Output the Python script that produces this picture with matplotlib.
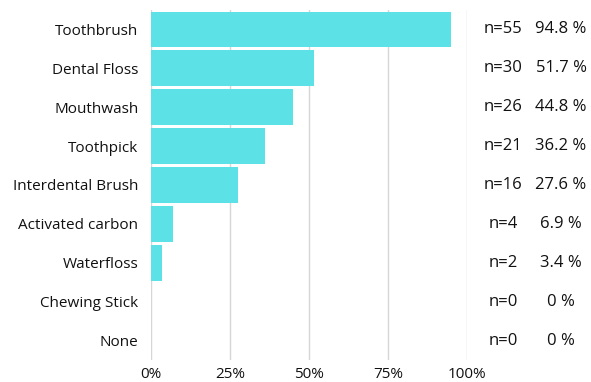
import matplotlib
matplotlib.use("Agg")
import matplotlib.pyplot as plt

categories = ["Toothbrush", "Dental Floss", "Mouthwash", "Toothpick", "Interdental Brush",
              "Activated carbon", "Waterfloss", "Chewing Stick", "None"]
percents = [94.8, 51.7, 44.8, 36.2, 27.6, 6.9, 3.4, 0, 0]
counts = [55, 30, 26, 21, 16, 4, 2, 0, 0]
pct_labels = ["94.8 %", "51.7 %", "44.8 %", "36.2 %", "27.6 %", "6.9 %", "3.4 %", "0 %", "0 %"]
xticks = [0, 25, 50, 75, 100]
xtick_labels = ["0%", "25%", "50%", "75%", "100%"]

plt.rcParams['font.family'] = ['Open Sans', 'DejaVu Sans']

fig = plt.figure(figsize=(5.91, 3.82), dpi=100)
ax = fig.add_axes([151/591, 1 - 360/382, 316/591, 350/382])

y = list(range(len(categories)))
ax.barh(y, percents, height=0.92, color="#5ce1e6", zorder=2)
ax.set_ylim(len(categories) - 0.5, -0.5)
ax.set_xlim(0, 100)
ax.set_yticks(y)
ax.set_yticklabels(categories, fontsize=11, color="#111111")
ax.set_xticks(xticks)
ax.set_xticklabels(xtick_labels, fontsize=11, color="#111111")
ax.tick_params(axis="both", length=0)
ax.tick_params(axis="y", pad=9)
ax.tick_params(axis="x", pad=5)
ax.grid(axis="x", color="#d6d6d6", linewidth=1, zorder=0)
ax.set_axisbelow(True)
for s in ax.spines.values():
    s.set_visible(False)

for i in y:
    ax.annotate(f"n={counts[i]}", xy=((503 - 151) / 316, i), xycoords=("axes fraction", "data"),
                ha="center", va="center", fontsize=12, color="#111111",
                annotation_clip=False)
    ax.annotate(pct_labels[i], xy=((561 - 151) / 316, i), xycoords=("axes fraction", "data"),
                ha="center", va="center", fontsize=12, color="#111111",
                annotation_clip=False)

fig.savefig("out.png", dpi=100)
